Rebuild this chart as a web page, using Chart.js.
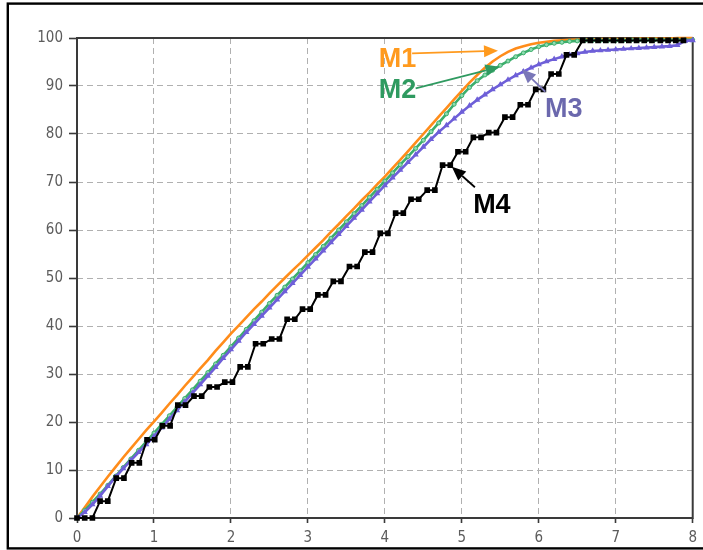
<!DOCTYPE html>
<html>
<head>
<meta charset="utf-8">
<script src="https://cdn.jsdelivr.net/npm/chart.js@4/dist/chart.umd.min.js"></script>
<style>
  html, body { margin: 0; padding: 0; background: #fff; }
  canvas { display: block; }
</style>
</head>
<body>
<canvas id="c" width="703" height="550"></canvas>
<script>
// Sample positions shared by the three smooth cumulative curves
const curveX = [
  0.0, 0.1, 0.2, 0.3, 0.4, 0.5, 0.6, 0.7, 0.8, 0.9,
  1.0, 1.1, 1.2, 1.3, 1.4, 1.5, 1.6, 1.7, 1.8, 1.9,
  2.0, 2.1, 2.2, 2.3, 2.4, 2.5, 2.6, 2.7, 2.8, 2.9,
  3.0, 3.1, 3.2, 3.3, 3.4, 3.5, 3.6, 3.7, 3.8, 3.9,
  4.0, 4.1, 4.2, 4.3, 4.4, 4.5, 4.6, 4.7, 4.8, 4.9,
  5.0, 5.1, 5.2, 5.3, 5.4, 5.5, 5.6, 5.7, 5.8, 5.9,
  6.0, 6.1, 6.2, 6.3, 6.4, 6.5, 6.6, 6.7, 6.8, 6.9,
  7.0, 7.1, 7.2, 7.3, 7.4, 7.5, 7.6, 7.7, 7.8, 7.9,
  8.0
];

const m1 = [
  0.0, 2.2, 4.4, 6.5, 8.6, 10.6, 12.6, 14.5, 16.4, 18.3,
  20.1, 21.9, 23.8, 25.6, 27.5, 29.3, 31.1, 32.9, 34.8, 36.6,
  38.4, 40.1, 41.8, 43.5, 45.1, 46.8, 48.4, 50.0, 51.6, 53.1,
  54.7, 56.3, 57.9, 59.6, 61.2, 62.9, 64.5, 66.2, 67.8, 69.5,
  71.1, 72.9, 74.6, 76.4, 78.2, 80.0, 81.8, 83.6, 85.4, 87.2,
  89.0, 90.7, 92.3, 93.8, 95.1, 96.2, 97.1, 97.8, 98.3, 98.7,
  99.0, 99.2, 99.4, 99.5, 99.6, 99.7, 99.7, 99.7, 99.8, 99.8,
  99.8, 99.8, 99.8, 99.9, 99.9, 99.9, 99.9, 99.9, 100.0, 100.0,
  100.0
];

const m2 = [
  0.0, 1.6, 3.3, 5.0, 6.8, 8.7, 10.5, 12.3, 14.1, 15.9,
  17.7, 19.5, 21.3, 23.1, 24.9, 26.7, 28.5, 30.3, 32.1, 33.9,
  35.7, 37.5, 39.3, 41.1, 42.9, 44.7, 46.4, 48.1, 49.8, 51.5,
  53.2, 54.9, 56.6, 58.3, 60.0, 61.7, 63.4, 65.1, 66.8, 68.5,
  70.2, 71.9, 73.6, 75.3, 77.0, 78.7, 80.5, 82.3, 84.2, 86.2,
  88.0, 89.7, 91.1, 92.3, 93.3, 94.3, 95.2, 96.1, 96.9, 97.6,
  98.2, 98.6, 98.9, 99.1, 99.3, 99.4, 99.5, 99.5, 99.5, 99.5,
  99.5, 99.5, 99.6, 99.6, 99.6, 99.6, 99.6, 99.6, 99.6, 99.6,
  99.6
];

const m3 = [
  0.0, 1.2, 2.8, 4.6, 6.6, 8.5, 10.3, 12.0, 13.7, 15.3,
  17.0, 18.8, 20.6, 22.4, 24.2, 26.0, 27.8, 29.6, 31.4, 33.3,
  35.1, 36.9, 38.7, 40.4, 42.1, 43.8, 45.5, 47.2, 48.9, 50.6,
  52.3, 54.0, 55.7, 57.4, 59.1, 60.8, 62.5, 64.2, 65.9, 67.6,
  69.3, 70.9, 72.5, 74.1, 75.7, 77.3, 78.9, 80.4, 81.8, 83.2,
  84.6, 85.9, 87.1, 88.2, 89.3, 90.3, 91.3, 92.2, 93.0, 93.8,
  94.5, 95.1, 95.6, 96.1, 96.5, 96.8, 97.1, 97.3, 97.4, 97.5,
  97.6, 97.7, 97.8, 97.9, 98.0, 98.1, 98.2, 98.3, 98.5, 99.4,
  99.5
];

// Stepped series: its own sample positions
const m4X = [
  0.00, 0.10, 0.20, 0.30, 0.40, 0.51, 0.61, 0.71, 0.81, 0.91,
  1.01, 1.11, 1.21, 1.31, 1.41, 1.52, 1.62, 1.72, 1.82, 1.92,
  2.02, 2.12, 2.22, 2.32, 2.42, 2.53, 2.63, 2.73, 2.83, 2.93,
  3.03, 3.13, 3.23, 3.33, 3.43, 3.54, 3.64, 3.74, 3.84, 3.94,
  4.04, 4.14, 4.24, 4.34, 4.44, 4.55, 4.65, 4.75, 4.85, 4.95,
  5.05, 5.15, 5.25, 5.35, 5.45, 5.56, 5.66, 5.76, 5.86, 5.96,
  6.06, 6.16, 6.26, 6.36, 6.46, 6.57, 6.67, 6.77, 6.87, 6.97,
  7.07, 7.17, 7.27, 7.37, 7.47, 7.58, 7.68, 7.78, 7.88
];

const m4 = [
  0.0, 0.0, 0.0, 3.5, 3.5, 8.3, 8.3, 11.5, 11.5, 16.3,
  16.3, 19.2, 19.2, 23.5, 23.5, 25.4, 25.4, 27.3, 27.3, 28.3,
  28.3, 31.5, 31.5, 36.3, 36.3, 37.3, 37.3, 41.4, 41.4, 43.5,
  43.5, 46.5, 46.5, 49.3, 49.3, 52.4, 52.4, 55.4, 55.4, 59.3,
  59.3, 63.5, 63.5, 66.4, 66.4, 68.3, 68.3, 73.5, 73.5, 76.3,
  76.3, 79.3, 79.3, 80.3, 80.3, 83.5, 83.5, 86.1, 86.1, 89.3,
  89.3, 92.5, 92.5, 96.5, 96.5, 99.5, 99.5, 99.5, 99.5, 99.5,
  99.5, 99.5, 99.5, 99.5, 99.5, 99.5, 99.5, 99.5, 99.5
];

const seriesNames = ['M1', 'M2', 'M3', 'M4'];
const xRange = [0, 8];
const yRange = [0, 100];

// Callout labels (data coordinates): text anchor, arrow start, arrow tip
const callouts = [
  { text: 'M1', color: '#ff9a1e', arrow: '#ff9a1e', at: [3.92, 94.0], from: [4.354, 96.8], to: [5.47, 97.35] },
  { text: 'M2', color: '#2f9a60', arrow: '#2f9a60', at: [3.92, 87.4], from: [4.40, 89.5], to: [5.49, 94.0] },
  { text: 'M3', color: '#6b68ad', arrow: '#7a77b8', at: [6.08, 83.6], from: [6.085, 88.8], to: [5.78, 93.5] },
  { text: 'M4', color: '#000000', arrow: '#000000', at: [5.147, 63.6], from: [5.17, 68.9], to: [4.87, 73.2] }
];

const toPoints = (xs, ys) => xs.map((x, i) => ({ x: x, y: ys[i] }));

const framePlugin = {
  id: 'frames',
  beforeDraw(chart) {
    const ctx = chart.ctx;
    ctx.save();
    ctx.fillStyle = '#ffffff';
    ctx.fillRect(0, 0, chart.width, chart.height);
    ctx.restore();
  },
  beforeDatasetsDraw(chart) {
    const { ctx, chartArea: a } = chart;
    ctx.save();
    ctx.strokeStyle = '#3a3a3a';
    ctx.lineWidth = 2;
    ctx.strokeRect(a.left, a.top, a.right - a.left, a.bottom - a.top);
    ctx.restore();
  },
  afterDraw(chart) {
    const ctx = chart.ctx;
    ctx.save();
    ctx.strokeStyle = '#000000';
    ctx.lineWidth = 2.4;
    ctx.strokeRect(7.8, 3.6, chart.width + 40, chart.height - 5.2);
    ctx.restore();
  }
};

const calloutPlugin = {
  id: 'callouts',
  afterDatasetsDraw(chart) {
    const ctx = chart.ctx;
    const xs = chart.scales.x, ys = chart.scales.y;
    ctx.save();
    callouts.forEach(c => {
      const x0 = xs.getPixelForValue(c.from[0]), y0 = ys.getPixelForValue(c.from[1]);
      const x1 = xs.getPixelForValue(c.to[0]), y1 = ys.getPixelForValue(c.to[1]);
      const ang = Math.atan2(y1 - y0, x1 - x0);
      const headLen = 14, headHalf = 6;
      const bx = x1 - headLen * Math.cos(ang), by = y1 - headLen * Math.sin(ang);
      ctx.strokeStyle = c.arrow;
      ctx.fillStyle = c.arrow;
      ctx.lineWidth = 1.8;
      ctx.beginPath();
      ctx.moveTo(x0, y0);
      ctx.lineTo(bx, by);
      ctx.stroke();
      ctx.beginPath();
      ctx.moveTo(x1, y1);
      ctx.lineTo(bx + headHalf * Math.sin(ang), by - headHalf * Math.cos(ang));
      ctx.lineTo(bx - headHalf * Math.sin(ang), by + headHalf * Math.cos(ang));
      ctx.closePath();
      ctx.fill();

      ctx.fillStyle = c.color;
      ctx.font = 'bold 27px "Liberation Sans", Arial, sans-serif';
      ctx.textAlign = 'left';
      ctx.textBaseline = 'alphabetic';
      ctx.fillText(c.text, xs.getPixelForValue(c.at[0]), ys.getPixelForValue(c.at[1]));
    });
    ctx.restore();
  }
};

const tickFont = { family: '"DejaVu Sans Condensed", "DejaVu Sans", sans-serif', size: 15 };
const gridStyle = {
  color: '#b0b0b0',
  lineWidth: 1,
  tickBorderDash: [],
  tickColor: '#3a3a3a',
  tickWidth: 1.6
};
// Dashes for the grid lines live on the border options in Chart.js v4
const gridBorder = { display: false, dash: [6, 4] };

new Chart(document.getElementById('c'), {
  type: 'line',
  data: {
    datasets: [
      {
        label: seriesNames[0],
        data: toPoints(curveX, m1),
        borderColor: '#ff8c1a',
        borderWidth: 2.6,
        pointRadius: 0,
        order: 3,
        clip: 6
      },
      {
        label: seriesNames[1],
        data: toPoints(curveX, m2),
        borderColor: '#3cae6c',
        borderWidth: 2.6,
        pointStyle: 'circle',
        pointRadius: 2,
        pointBorderWidth: 1,
        pointBorderColor: '#3cae6c',
        pointBackgroundColor: '#8fdcb0',
        order: 2,
        clip: 6
      },
      {
        label: seriesNames[2],
        data: toPoints(curveX, m3),
        borderColor: '#6e5fd8',
        borderWidth: 2.6,
        pointStyle: 'triangle',
        pointRadius: 3.6,
        pointBorderWidth: 0,
        pointBackgroundColor: '#6e5fd8',
        order: 1,
        clip: 6
      },
      {
        label: seriesNames[3],
        data: toPoints(m4X, m4),
        borderColor: '#000000',
        borderWidth: 2,
        pointStyle: 'rect',
        pointRadius: 4,
        pointBorderWidth: 0,
        pointBackgroundColor: '#000000',
        order: 0,
        clip: 6
      }
    ]
  },
  options: {
    responsive: false,
    animation: false,
    devicePixelRatio: 1,
    layout: { padding: { left: 0, top: 38, right: 5, bottom: 0 } },
    plugins: { legend: { display: false }, tooltip: { enabled: false } },
    elements: { line: { tension: 0 } },
    scales: {
      x: {
        type: 'linear',
        min: xRange[0],
        max: xRange[1],
        border: gridBorder,
        grid: Object.assign({}, gridStyle, { tickLength: 5 }),
        ticks: { stepSize: 1, color: '#5c5c5c', font: tickFont, padding: 6, maxRotation: 0 },
        afterFit(scale) { scale.height = 32; }
      },
      y: {
        type: 'linear',
        min: yRange[0],
        max: yRange[1],
        border: gridBorder,
        grid: Object.assign({}, gridStyle, { tickLength: 8 }),
        ticks: { stepSize: 10, color: '#5c5c5c', font: tickFont, padding: 6 },
        afterFit(scale) { scale.width = 77; }
      }
    }
  },
  plugins: [framePlugin, calloutPlugin]
});
</script>
</body>
</html>
